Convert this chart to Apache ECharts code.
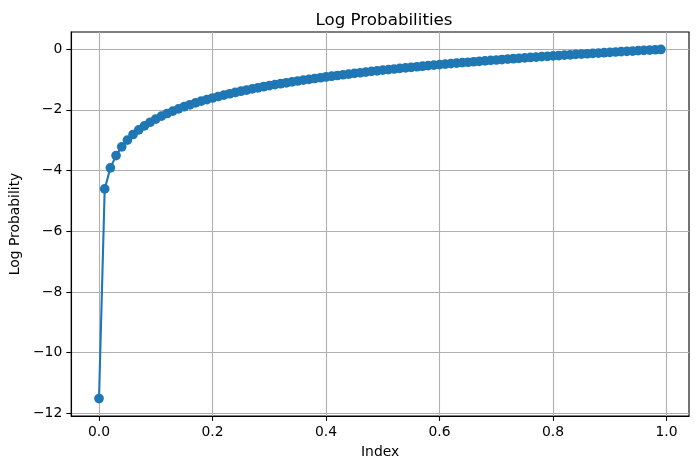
<!DOCTYPE html>
<html>
<head>
<meta charset="utf-8">
<script src="https://cdn.jsdelivr.net/npm/echarts@6/dist/echarts.min.js"></script>
<style>html,body{margin:0;padding:0;background:#fff}#c{width:698px;height:470px}</style>
</head>
<body>
<div id="c"></div>
<script>
const xValues = [0.00,0.01,0.02,0.03,0.04,0.05,0.06,0.07,0.08,0.09,
0.10,0.11,0.12,0.13,0.14,0.15,0.16,0.17,0.18,0.19,
0.20,0.21,0.22,0.23,0.24,0.25,0.26,0.27,0.28,0.29,
0.30,0.31,0.32,0.33,0.34,0.35,0.36,0.37,0.38,0.39,
0.40,0.41,0.42,0.43,0.44,0.45,0.46,0.47,0.48,0.49,
0.50,0.51,0.52,0.53,0.54,0.55,0.56,0.57,0.58,0.59,
0.60,0.61,0.62,0.63,0.64,0.65,0.66,0.67,0.68,0.69,
0.70,0.71,0.72,0.73,0.74,0.75,0.76,0.77,0.78,0.79,
0.80,0.81,0.82,0.83,0.84,0.85,0.86,0.87,0.88,0.89,
0.90,0.91,0.92,0.93,0.94,0.95,0.96,0.97,0.98,0.99];
const logProb = [-11.513,-4.605,-3.912,-3.507,-3.219,-2.996,-2.813,-2.659,-2.526,-2.408,
-2.303,-2.207,-2.120,-2.040,-1.966,-1.897,-1.833,-1.772,-1.715,-1.661,
-1.609,-1.561,-1.514,-1.470,-1.427,-1.386,-1.347,-1.309,-1.273,-1.238,
-1.204,-1.171,-1.139,-1.109,-1.079,-1.050,-1.022,-0.994,-0.968,-0.942,
-0.916,-0.892,-0.868,-0.844,-0.821,-0.799,-0.777,-0.755,-0.734,-0.713,
-0.693,-0.673,-0.654,-0.635,-0.616,-0.598,-0.580,-0.562,-0.545,-0.528,
-0.511,-0.494,-0.478,-0.462,-0.446,-0.431,-0.416,-0.400,-0.386,-0.371,
-0.357,-0.342,-0.329,-0.315,-0.301,-0.288,-0.274,-0.261,-0.248,-0.236,
-0.223,-0.211,-0.198,-0.186,-0.174,-0.163,-0.151,-0.139,-0.128,-0.117,
-0.105,-0.094,-0.083,-0.073,-0.062,-0.051,-0.041,-0.030,-0.020,-0.010];
const xTicks = [0.0,0.2,0.4,0.6,0.8,1.0];
const yTicks = [-12,-10,-8,-6,-4,-2,0];
const titleText = 'Log Probabilities';
const xName = 'Index';
const yName = 'Log Probability';

const FONT = 'DejaVu Sans';
const chart = echarts.init(document.getElementById('c'), null, {renderer: 'canvas'});
const minus = s => String(s).replace('-', '\u2212');
chart.setOption({
  animation: false,
  backgroundColor: '#fff',
  title: {
    text: titleText, left: 379, top: 7, textAlign: 'center',
    textStyle: {fontFamily: FONT, fontSize: 16.7, fontWeight: 'normal', color: '#000'}
  },
  grid: {left: 70, right: 9, top: 32, bottom: 54, show: true, borderColor: '#000', borderWidth: 1.1, backgroundColor: 'transparent'},
  xAxis: {
    type: 'value', min: -0.049, max: 1.0395,
    name: xName, nameLocation: 'middle', nameGap: 29,
    nameTextStyle: {fontFamily: FONT, fontSize: 13.9, color: '#000'},
    axisLine: {show: true, onZero: false, lineStyle: {color: '#000', width: 1.1}},
    axisTick: {show: true, length: 4.9, lineStyle: {color: '#000', width: 1.1}, customValues: xTicks},
    axisLabel: {customValues: xTicks, margin: 9, fontFamily: FONT, fontSize: 13.9, color: '#000', formatter: v => minus(Number(v).toFixed(1))},
    splitLine: {show: true, lineStyle: {color: '#b0b0b0', width: 1.1}}
  },
  yAxis: {
    type: 'value', min: -12.088, max: 0.565,
    name: yName, nameLocation: 'middle', nameGap: 46, nameRotate: 90,
    nameTextStyle: {fontFamily: FONT, fontSize: 13.9, color: '#000'},
    axisLine: {show: true, onZero: false, lineStyle: {color: '#000', width: 1.1}},
    axisTick: {show: true, length: 4.9, lineStyle: {color: '#000', width: 1.1}, customValues: yTicks},
    axisLabel: {customValues: yTicks, margin: 9, fontFamily: FONT, fontSize: 13.9, color: '#000', formatter: v => minus(v)},
    splitLine: {show: true, lineStyle: {color: '#b0b0b0', width: 1.1}}
  },
  series: [{
    type: 'line',
    data: xValues.map((x, i) => [x, logProb[i]]),
    symbol: 'circle', symbolSize: 9.7, showSymbol: true,
    lineStyle: {color: '#1f77b4', width: 2.1},
    itemStyle: {color: '#1f77b4', borderWidth: 0},
    clip: false
  }]
});
</script>
</body>
</html>
